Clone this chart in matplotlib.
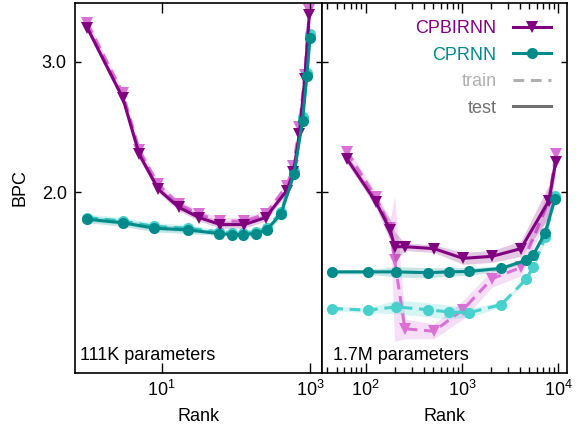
import matplotlib
matplotlib.use("Agg")
import matplotlib.pyplot as plt
import numpy as np
from matplotlib.lines import Line2D
from matplotlib.ticker import FixedLocator, FormatStrFormatter, LogLocator, NullLocator, NullFormatter

plt.rcParams['font.family'] = ['Liberation Sans', 'DejaVu Sans']
plt.rcParams['mathtext.fontset'] = 'custom'
plt.rcParams['mathtext.rm'] = 'Liberation Sans'
plt.rcParams['mathtext.it'] = 'Liberation Sans:italic'

# ---------------- data: 111K parameters (left panel) ----------------
small_bi_rank = [1, 3, 5, 9, 17, 32, 62, 130, 252, 484, 600, 720, 850, 980]
small_bi_test = [3.33, 2.68, 2.25, 2.02, 1.91, 1.85, 1.81, 1.81, 1.85, 2.01, 2.13, 2.40, 2.84, 3.47]
small_bi_train = [3.38, 2.72, 2.28, 2.05, 1.93, 1.87, 1.83, 1.83, 1.87, 2.04, 2.17, 2.45, 2.88, 3.52]
small_bi_std = [0.04, 0.03, 0.03, 0.02, 0.02, 0.02, 0.02, 0.02, 0.02, 0.02, 0.02, 0.03, 0.03, 0.04]

small_cp_rank = [1, 3, 8, 23, 60, 89, 126, 187, 260, 405, 612, 795, 908, 1000]
small_cp_test = [1.84, 1.82, 1.79, 1.78, 1.76, 1.755, 1.755, 1.76, 1.78, 1.87, 2.12, 2.50, 2.87, 3.23]
small_cp_train = [1.85, 1.83, 1.80, 1.79, 1.77, 1.765, 1.765, 1.77, 1.79, 1.88, 2.14, 2.53, 2.90, 3.27]
small_cp_std = [0.02, 0.02, 0.02, 0.02, 0.01, 0.01, 0.01, 0.01, 0.01, 0.02, 0.02, 0.02, 0.03, 0.03]

# ---------------- data: 1.7M parameters (right panel) ----------------
large_bi_rank = [64, 128, 180, 200, 256, 512, 1024, 2048, 4096, 8000, 9400]
large_bi_test = [2.22, 1.94, 1.78, 1.69, 1.69, 1.68, 1.63, 1.64, 1.68, 1.95, 2.20]
large_bi_test_std = [0.03, 0.03, 0.06, 0.08, 0.02, 0.02, 0.03, 0.03, 0.04, 0.10, 0.06]
large_bi_train = [2.27, 1.97, 1.79, 1.62, 1.31, 1.30, 1.39, 1.53, 1.585, 1.95, 2.25]
large_bi_train_std = [0.03, 0.03, 0.05, 0.36, 0.04, 0.03, 0.04, 0.04, 0.04, 0.08, 0.05]

large_cp_rank = [45, 105, 206, 440, 731, 1186, 2558, 4613, 5506, 7295, 9230]
large_cp_test = [1.563, 1.563, 1.563, 1.559, 1.563, 1.565, 1.58, 1.62, 1.648, 1.765, 1.96]
large_cp_test_std = [0.01, 0.01, 0.025, 0.025, 0.02, 0.02, 0.01, 0.01, 0.01, 0.02, 0.02]
large_cp_train = [1.395, 1.388, 1.402, 1.39, 1.38, 1.377, 1.412, 1.527, 1.588, 1.739, 1.98]
large_cp_train_std = [0.01, 0.01, 0.03, 0.03, 0.03, 0.02, 0.01, 0.01, 0.01, 0.02, 0.02]

panel_labels = ["111K parameters", "1.7M parameters"]
legend_labels = ["CPBIRNN", "CPRNN", "train", "test"]

PURPLE = '#800080'
ORCHID = '#da70d6'
TEAL = '#008b8b'
TURQ = '#48d1cc'
DASH = (0, (3.5, 2.2))

fig = plt.figure(figsize=(5.76, 4.28), dpi=100)
axL = fig.add_axes([75/576, 55/428, 246.7/576, 370/428])
axR = fig.add_axes([321.7/576, 55/428, 245.6/576, 370/428])

def draw(ax, r, m, s, color, marker, ls, band_color, z):
    r = np.array(r); m = np.array(m); s = np.array(s)
    ax.fill_between(r, m - s, m + s, color=band_color, alpha=0.22, lw=0, zorder=z)
    ax.plot(r, m, color=color, ls=ls, lw=2.2, marker=marker,
            ms=8.5 if marker == 'v' else 8, markeredgewidth=0, zorder=z + 0.5)

# left panel
draw(axL, small_bi_rank, small_bi_train, small_bi_std, ORCHID, 'v', DASH, ORCHID, 1)
draw(axL, small_cp_rank, small_cp_train, small_cp_std, TURQ, 'o', DASH, TURQ, 2)
draw(axL, small_bi_rank, small_bi_test, small_bi_std, PURPLE, 'v', '-', PURPLE, 3)
draw(axL, small_cp_rank, small_cp_test, small_cp_std, TEAL, 'o', '-', TEAL, 4)

# right panel
draw(axR, large_bi_rank, large_bi_train, large_bi_train_std, ORCHID, 'v', DASH, ORCHID, 1)
draw(axR, large_cp_rank, large_cp_train, large_cp_train_std, TURQ, 'o', DASH, TURQ, 2)
draw(axR, large_bi_rank, large_bi_test, large_bi_test_std, PURPLE, 'v', '-', PURPLE, 3)
draw(axR, large_cp_rank, large_cp_test, large_cp_test_std, TEAL, 'o', '-', TEAL, 4)

for ax in (axL, axR):
    ax.set_xscale('log')
    ax.set_yscale('log')
    ax.set_ylim(1.142, 3.6)
    ax.yaxis.set_major_locator(FixedLocator([2.0, 3.0]))
    ax.yaxis.set_major_formatter(FormatStrFormatter('%.1f'))
    ax.yaxis.set_minor_locator(NullLocator())
    ax.yaxis.set_minor_formatter(NullFormatter())
    ax.tick_params(which='both', direction='in', top=True, right=True, labelsize=13, width=1)
    ax.tick_params(axis='x', which='major', length=7, pad=5)
    ax.tick_params(axis='x', which='minor', length=4)
    ax.tick_params(axis='y', which='major', length=4, pad=6)
    for sp in ax.spines.values():
        sp.set_linewidth(1.2)
    ax.set_xlabel('Rank', fontsize=13, labelpad=6)

axL.set_xlim(0.68, 1440)
axL.xaxis.set_major_locator(FixedLocator([10, 1000]))
axL.xaxis.set_minor_locator(NullLocator())
axL.set_ylabel('BPC', fontsize=13)
axL.yaxis.set_label_coords(-0.19, 0.5)

axR.set_xlim(35, 12400)
axR.xaxis.set_major_locator(LogLocator(base=10, numticks=10))
axR.xaxis.set_minor_locator(LogLocator(base=10, subs=np.arange(2, 10), numticks=20))
axR.xaxis.set_minor_formatter(NullFormatter())
axR.tick_params(axis='y', labelleft=False)

axL.text(0.02, 0.035, panel_labels[0], transform=axL.transAxes, fontsize=13, va='baseline', ha='left')
axR.text(0.047, 0.035, panel_labels[1], transform=axR.transAxes, fontsize=13, va='baseline', ha='left')

handles = [
    Line2D([], [], color=PURPLE, lw=2.2, marker='v', ms=8.5, markeredgewidth=0),
    Line2D([], [], color=TEAL, lw=2.2, marker='o', ms=8, markeredgewidth=0),
    Line2D([], [], color='#b0b0b0', lw=2.2, ls=DASH),
    Line2D([], [], color='#707070', lw=2.2, ls='-'),
]
axR.legend(handles, legend_labels, loc='upper right', bbox_to_anchor=(0.932, 0.953),
           frameon=False, markerfirst=False, fontsize=13, handlelength=2.1,
           handletextpad=0.9, labelspacing=0.52, borderpad=0, borderaxespad=0,
           labelcolor=[PURPLE, TEAL, '#b0b0b0', '#707070'])

fig.savefig('out.png', dpi=100)
